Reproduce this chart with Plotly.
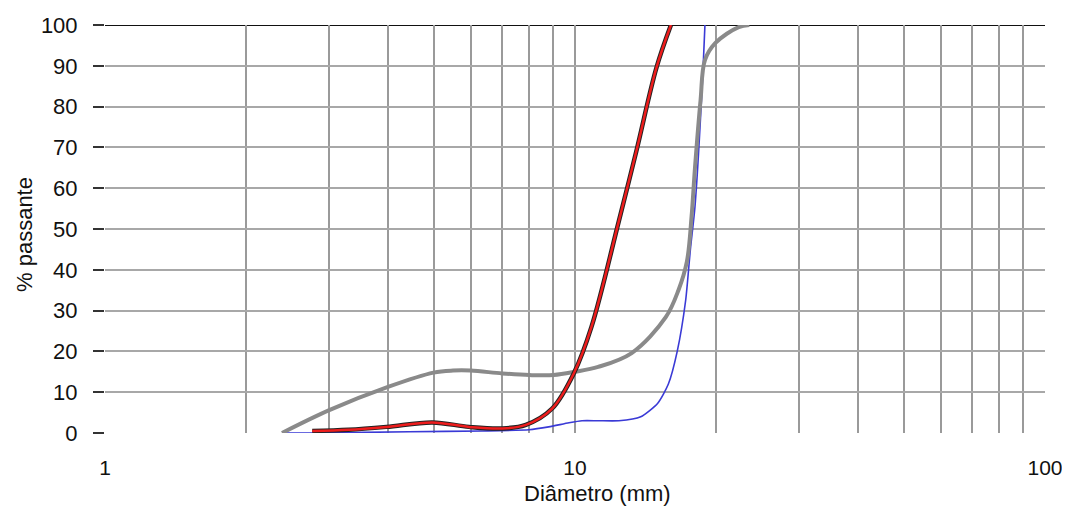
import plotly.graph_objects as go

# --- data ---
gray_x = [2.38, 3.0, 4.0, 5.0, 5.5, 6.0, 7.0, 8.0, 9.0, 10.0, 11.2, 13.2, 15.6, 16.6, 17.3, 17.7, 18.0, 18.5, 18.9, 19.9, 22.3, 23.5]
gray_y = [0, 5.6, 11.3, 14.8, 15.3, 15.3, 14.6, 14.2, 14.2, 15, 16.2, 19.6, 28.4, 35, 42, 53, 65, 81.6, 91.4, 95.6, 99.5, 100]

red_x = [2.76, 3.3, 3.97, 4.97, 5.95, 7.0, 7.86, 8.94, 9.95, 10.84, 12.4, 13.5, 14.9, 16.0]
red_y = [0.5, 0.8, 1.5, 2.6, 1.5, 1.1, 2, 6, 14.7, 26, 52, 69, 89.5, 100]

blue_x = [2.38, 2.82, 4.44, 6.35, 7.98, 8.79, 9.71, 10.35, 11.2, 12.4, 13.8, 15.0, 15.8, 16.5, 17.2, 17.6, 18.0, 18.7, 18.9]
blue_y = [0, 0, 0.3, 0.5, 0.8, 1.5, 2.5, 3, 3, 3, 4, 7.3, 12, 20, 32.6, 45, 55.5, 87.7, 100]

x_tickvals = [1, 2, 3, 4, 5, 6, 7, 8, 9, 10, 20, 30, 40, 50, 60, 70, 80, 90, 100]
x_ticktext = ["1", "", "", "", "", "", "", "", "", "10", "", "", "", "", "", "", "", "", "100"]
y_tickvals = [0, 10, 20, 30, 40, 50, 60, 70, 80, 90, 100]

FONT = "Liberation Sans, Arial, sans-serif"
FS = 22
FX = 21
FT = 22

L, R, T, B = 105, 1045, 25, 433  # plot area in screenshot pixels

fig = go.Figure()
fig.add_trace(go.Scatter(x=blue_x, y=blue_y, mode="lines",
                         line=dict(color="#3a3ad6", width=1.6, shape="spline", smoothing=0.6),
                         showlegend=False))
fig.add_trace(go.Scatter(x=gray_x, y=gray_y, mode="lines",
                         line=dict(color="#8a8a8a", width=4, shape="spline", smoothing=1.0),
                         showlegend=False))
fig.add_trace(go.Scatter(x=red_x, y=red_y, mode="lines",
                         line=dict(color="#222222", width=4.5, shape="spline", smoothing=1.0),
                         showlegend=False))
fig.add_trace(go.Scatter(x=red_x, y=red_y, mode="lines",
                         line=dict(color="#ee1c1c", width=2.5, shape="spline", smoothing=1.0),
                         showlegend=False))

fig.update_layout(
    width=1062, height=499,
    margin=dict(l=L - 8, r=1062 - (R - 8), t=T - 8, b=499 - (B - 8), autoexpand=False),
    paper_bgcolor="white", plot_bgcolor="white",
    font=dict(family=FONT, size=FS, color="#111111"),
    xaxis=dict(type="log", range=[0, 2], tickvals=x_tickvals, ticktext=x_ticktext,
               showgrid=True, gridcolor="#9a9a9a", gridwidth=1.5, automargin=False,
               ticks="", ticklabelstandoff=20, ticklabeloverflow="allow",
               zeroline=False, showline=False,
               tickfont=dict(family=FONT, size=FX)),
    yaxis=dict(range=[0, 100], tickvals=y_tickvals,
               showgrid=True, gridcolor="#a8a8a8", gridwidth=1.5, automargin=False,
               ticks="outside", ticklen=11, tickwidth=1.5, tickcolor="#333333",
               ticklabelstandoff=11, ticklabeloverflow="allow",
               zeroline=False, showline=False,
               tickfont=dict(family=FONT, size=FS)),
    shapes=[dict(type="line", xref="paper", yref="y", x0=0, x1=1, y0=100, y1=100,
                 line=dict(color="#111111", width=1.8), layer="below")],
    annotations=[
        dict(text="Diâmetro (mm)", xref="paper", yref="paper", x=(597 - L) / (R - L),
             y=-(494 - B) / (B - T), xanchor="center", yanchor="middle", showarrow=False,
             font=dict(family=FONT, size=FT)),
        dict(text="% passante", xref="paper", yref="paper", x=-(L - 25) / (R - L),
             y=(B - 235) / (B - T), xanchor="center", yanchor="middle", showarrow=False,
             textangle=-90, font=dict(family=FONT, size=FT)),
    ],
)

fig.write_html("out.html")
